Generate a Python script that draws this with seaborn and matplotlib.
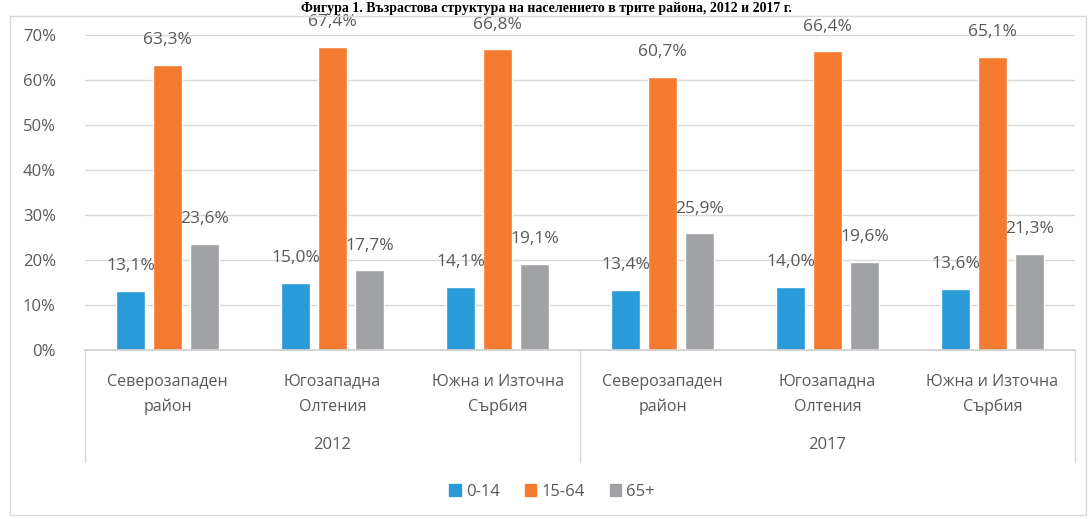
import matplotlib
matplotlib.use("Agg")
import matplotlib.pyplot as plt
import matplotlib.transforms as mtransforms
from matplotlib.patches import Rectangle
import seaborn as sns
import pandas as pd

# --- data ---------------------------------------------------------------
years = ["2012", "2017"]
regions = ["Северозападен\nрайон", "Югозападна\nОлтения", "Южна и Източна\nСърбия"]
age_groups = ["0-14", "15-64", "65+"]
share_0_14 = [13.1, 15.0, 14.1, 13.4, 14.0, 13.6]
share_15_64 = [63.3, 67.4, 66.8, 60.7, 66.4, 65.1]
share_65_plus = [23.6, 17.7, 19.1, 25.9, 19.6, 21.3]
y_ticks = [0, 10, 20, 30, 40, 50, 60, 70]
title = "Фигура 1. Възрастова структура на населението в трите района, 2012 и 2017 г."

colors = ["#2A9AD8", "#F47B30", "#A0A2A5"]
text_color = "#595959"

slots = [f"{y}|{r}" for y in years for r in regions]
rows = []
for grp, vals in zip(age_groups, [share_0_14, share_15_64, share_65_plus]):
    for slot, v in zip(slots, vals):
        rows.append({"slot": slot, "group": grp, "value": v})
df = pd.DataFrame(rows)

# --- figure ---------------------------------------------------------------
sns.set_theme(style="white")
plt.rcParams["font.family"] = ["Open Sans", "DejaVu Sans"]

fig = plt.figure(figsize=(10.92, 5.19), dpi=100)
W, H = 1092, 519
ax = fig.add_axes([85 / W, 1 - 350 / H, (1075 - 85) / W, (350 - 35) / H])

sns.barplot(data=df, x="slot", y="value", hue="group", order=slots,
            hue_order=age_groups, palette=colors, width=0.67, gap=0.22,
            saturation=1, ax=ax, legend=False, errorbar=None)

ax.set_ylim(0, 70)
ax.set_xlim(-0.5, len(slots) - 0.5)
ax.set_yticks(y_ticks)
ax.set_yticklabels([f"{t}%" for t in y_ticks], color=text_color, fontsize=12)
ax.yaxis.grid(True, color="#D9D9D9", linewidth=1)
ax.set_axisbelow(True)
for s in ["top", "right", "left"]:
    ax.spines[s].set_visible(False)
ax.spines["bottom"].set_color("#D0D0D0")
ax.tick_params(axis="y", length=0, pad=21)
ax.tick_params(axis="x", length=0, pad=17)
ax.set_xticks(range(len(slots)))
ax.set_xticklabels(regions * len(years), color=text_color, fontsize=11.5,
                   linespacing=1.75)
ax.set_xlabel("")
ax.set_ylabel("")

# value labels above bars
for container in ax.containers:
    labels = [f"{b.get_height():.1f}%".replace(".", ",") for b in container]
    ax.bar_label(container, labels=labels, padding=12, color=text_color,
                 fontsize=12.5)

# group separators and year labels
trans = mtransforms.blended_transform_factory(ax.transData, ax.transAxes)
sep_bottom = -(462 - 350) / (350 - 35)
for x in [-0.5, 2.5, 5.5]:
    ax.plot([x, x], [0, sep_bottom], transform=trans, color="#D9D9D9",
            linewidth=1, clip_on=False)
for i, y in enumerate(years):
    ax.text(i * 3 + 1, -(445 - 350) / (350 - 35), y, transform=trans,
            ha="center", va="center", color=text_color, fontsize=12)

# legend
handles = [Rectangle((0, 0), 1, 1, color=c) for c in colors]
fig.legend(handles, age_groups, loc="center", bbox_to_anchor=(552 / W, 1 - 492 / H),
           ncol=3, frameon=False, fontsize=12, handlelength=0.7, handleheight=0.7,
           handletextpad=0.3, columnspacing=1.5, labelcolor=text_color)

# chart frame
fig.patches.append(Rectangle((10 / W, 1 - 515 / H), (1086 - 10) / W, (515 - 16) / H,
                             transform=fig.transFigure, fill=False,
                             edgecolor="#D9D9D9", linewidth=1))

# heading above the chart
fig.text(0.5, 1 - 12 / H, title, ha="center", va="baseline", fontsize=10,
         fontweight="bold", family=["Liberation Serif", "DejaVu Serif"], color="black")

fig.savefig("out.png", dpi=100)
